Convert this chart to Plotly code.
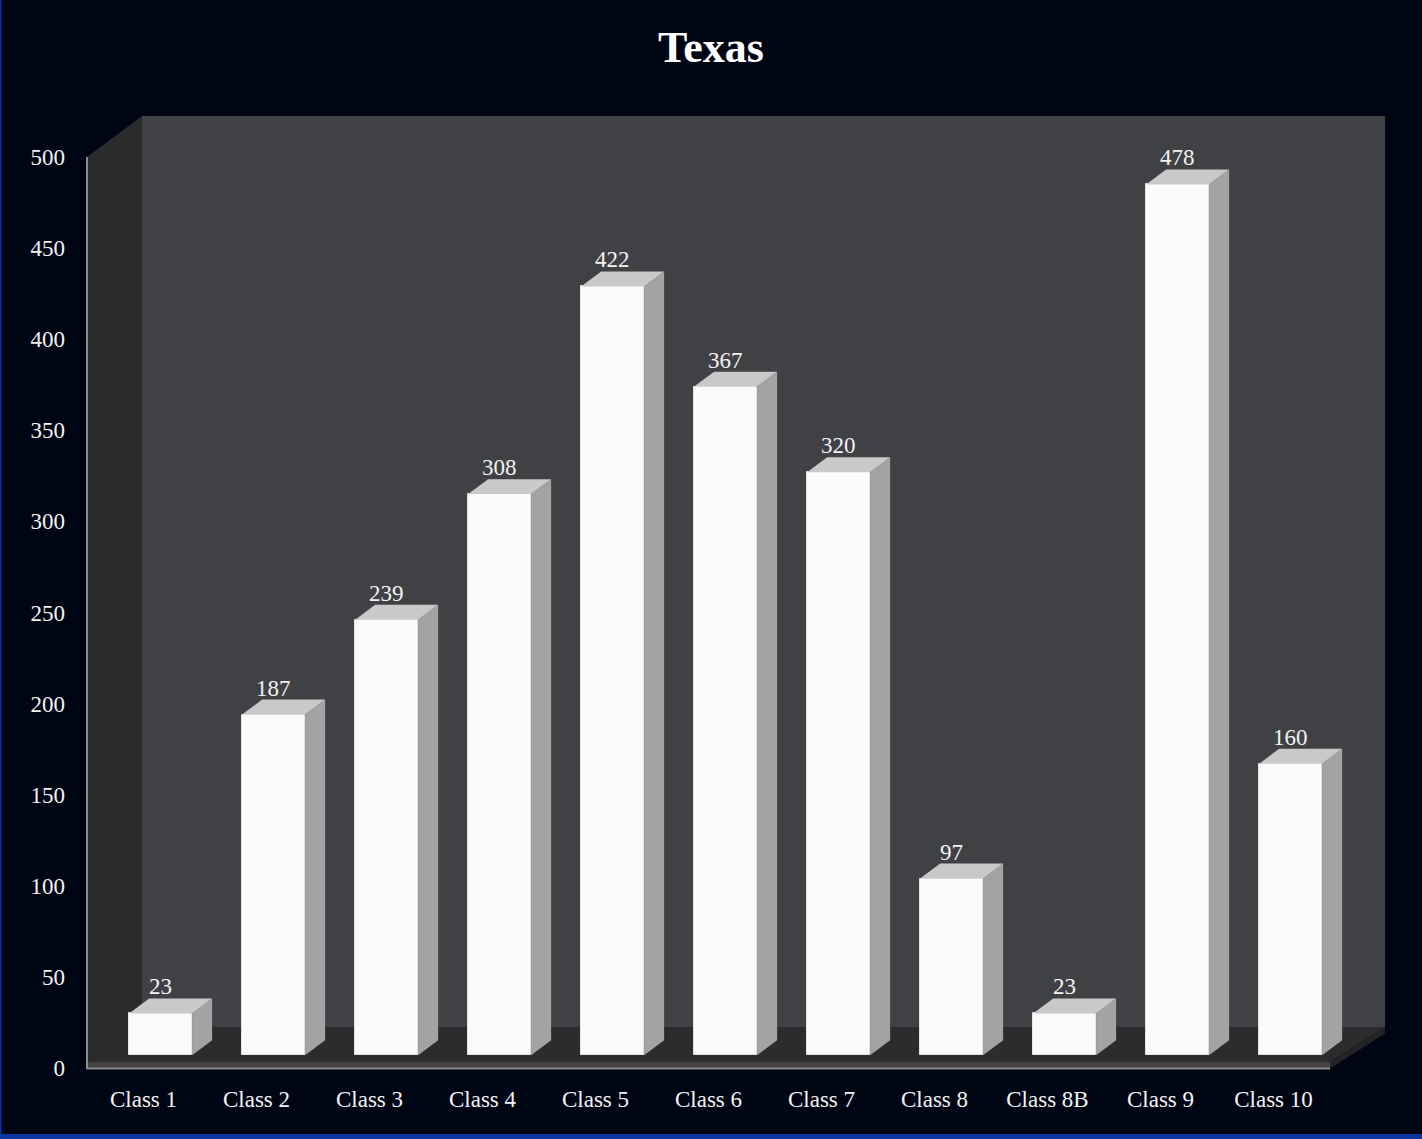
import plotly.graph_objects as go

categories = ["Class 1", "Class 2", "Class 3", "Class 4", "Class 5", "Class 6",
              "Class 7", "Class 8", "Class 8B", "Class 9", "Class 10"]
values = [23, 187, 239, 308, 422, 367, 320, 97, 23, 478, 160]
y_ticks = [0, 50, 100, 150, 200, 250, 300, 350, 400, 450, 500]
title_text = "Texas"

# pseudo-3D geometry (in axis units)
DX, DY = 0.487, 22.5       # full depth offset of the chart box
F1, S = 0.31, 0.365        # bar front depth fraction and bar depth fraction
W = 0.5575                 # bar front width
YMAX = 500
FLOOR_T = 3.3

FONT = "Liberation Serif, Times New Roman, serif"
BG = "#000514"
W_PX, H_PX = 1422, 1139
ML, MR, MT, MB = 80, 32, 110, 64
PW, PH = W_PX - ML - MR, H_PX - MT - MB

n = len(categories)
xs = list(range(n))
xl0, xr0 = -0.5, n - 0.5

fig = go.Figure()
shapes = []

def path_of(pts):
    return "M " + " L ".join(f"{x},{y}" for x, y in pts) + " Z"

def wall(pts, color):
    shapes.append(dict(type="path", xref="x", yref="y", path=path_of(pts),
                       fillcolor=color, line=dict(width=0), layer="below"))

# back wall
wall([(xl0 + DX, DY), (xr0 + DX, DY), (xr0 + DX, YMAX + DY), (xl0 + DX, YMAX + DY)], "#404145")
# left side wall
wall([(xl0, 0), (xl0 + DX, DY), (xl0 + DX, YMAX + DY), (xl0, YMAX)], "#2a2b2d")
# floor top
wall([(xl0, FLOOR_T), (xr0, FLOOR_T), (xr0 + DX, DY), (xl0 + DX, DY)], "#2c2c2e")
# floor front face
wall([(xl0, -0.3), (xr0, -0.3), (xr0, FLOOR_T), (xl0, FLOOR_T)], "#434345")
# floor right face
wall([(xr0, -0.3), (xr0 + DX, DY - FLOOR_T - 0.3), (xr0 + DX, DY), (xr0, FLOOR_T)], "#242426")
# axis lines (front edges)
shapes.append(dict(type="path", xref="x", yref="y",
                   path=f"M {xl0},{YMAX} L {xl0},{-0.3} L {xr0},{-0.3}",
                   line=dict(color="#8c8c8c", width=2), layer="below"))

# bars: front faces
base = F1 * DY
front_x = [i + F1 * DX for i in xs]
fig.add_trace(go.Bar(x=front_x, y=values, base=base, width=W,
                     marker=dict(color="#fbfbfb", line=dict(width=1, color="#e4e4e4")),
                     hoverinfo="skip", showlegend=False))

# bar side and top faces
side_x, side_y, top_x, top_y = [], [], [], []
for i, v in zip(xs, values):
    xl = front_x[i] - W / 2
    xr = front_x[i] + W / 2
    t = v + base
    side_x += [xr, xr + S * DX, xr + S * DX, xr, xr, None]
    side_y += [base, base + S * DY, t + S * DY, t, base, None]
    top_x += [xl, xr, xr + S * DX, xl + S * DX, xl, None]
    top_y += [t, t, t + S * DY, t + S * DY, t, None]

def poly(xv, yv, color):
    fig.add_trace(go.Scatter(x=xv, y=yv, mode="lines", fill="toself", fillcolor=color,
                             line=dict(width=0, color=color),
                             hoverinfo="skip", showlegend=False))

poly(side_x, side_y, "#a3a3a3")
poly(top_x, top_y, "#c9c9c9")

# data labels
for i, v in zip(xs, values):
    fig.add_annotation(x=front_x[i], y=v + base + S * DY, text=str(v), showarrow=False,
                       yanchor="bottom", yshift=-3,
                       font=dict(family=FONT, size=23, color="#f2f2f2"))

# blue frame edges (left and bottom)
shapes.append(dict(type="rect", xref="paper", yref="paper",
                   x0=-ML / PW, x1=(-ML + 1.5) / PW, y0=-MB / PH, y1=1 + MT / PH,
                   fillcolor="#0a2f9c", line=dict(width=0), layer="above"))
shapes.append(dict(type="rect", xref="paper", yref="paper",
                   x0=-ML / PW, x1=1 + MR / PW, y0=-MB / PH, y1=(-MB + 5) / PH,
                   fillcolor="#0a34a0", line=dict(width=0), layer="above"))

fig.update_layout(
    width=W_PX, height=H_PX,
    paper_bgcolor=BG, plot_bgcolor=BG,
    margin=dict(l=ML, r=MR, t=MT, b=MB, autoexpand=False),
    title=dict(text="<b>" + title_text + "</b>", x=0.5, xanchor="center",
               y=1 - 47 / H_PX, yanchor="middle",
               font=dict(family=FONT, size=44, color="#ffffff")),
    xaxis=dict(range=[-0.5619, 11.031], tickvals=xs, ticktext=categories,
               showgrid=False, zeroline=False, showline=False, ticks="",
               ticklabelstandoff=8,
               tickfont=dict(family=FONT, size=23, color="#f2f2f2")),
    yaxis=dict(range=[-3.842, 525.8], tickvals=y_ticks,
               showgrid=False, zeroline=False, showline=False, ticks="",
               ticklabelstandoff=14,
               tickfont=dict(family=FONT, size=23, color="#f2f2f2")),
    bargap=0,
    shapes=shapes,
)

fig.write_html("out.html", config={"displayModeBar": False},
               post_script="document.body.style.margin='0';document.body.style.overflow='hidden';")
